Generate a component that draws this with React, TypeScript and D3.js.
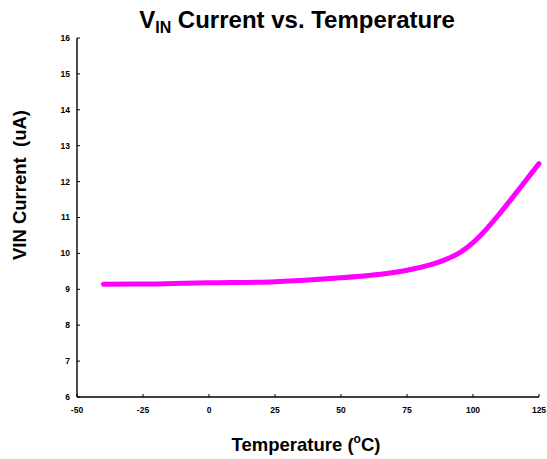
import React from "react";
import * as d3 from "d3";

// 온도(°C)와 VIN 전류(uA) 값
const temps = [-40, -20, 0, 25, 50, 65, 75, 85, 90, 95, 100, 105, 110, 115, 120, 125];
const currents = [9.14, 9.15, 9.18, 9.21, 9.32, 9.42, 9.53, 9.71, 9.84, 10.02, 10.3, 10.67, 11.1, 11.56, 12.03, 12.5];
const xTicks = [-50, -25, 0, 25, 50, 75, 100, 125];
const yTicks = [6, 7, 8, 9, 10, 11, 12, 13, 14, 15, 16];

const W = 547;
const H = 459;
const margin = { top: 38, right: 8, bottom: 62, left: 77 };
const font = "Arial, 'Liberation Sans', sans-serif";

const App: React.FC = () => {
  const x = d3.scaleLinear().domain([-50, 125]).range([margin.left, W - margin.right]);
  const y = d3.scaleLinear().domain([6, 16]).range([H - margin.bottom, margin.top]);

  const line = d3
    .line<number>()
    .x((_, i) => x(temps[i]))
    .y((d) => y(d))
    .curve(d3.curveCatmullRom.alpha(0.5));

  const x0 = x(-50);
  const y0 = y(6);

  return (
    <svg
      width={W}
      height={H}
      style={{ position: "absolute", left: 0, top: 0, background: "#fff" }}
      fontFamily={font}
    >
      {/* 제목 */}
      <text x={297} y={28} textAnchor="middle" fontSize={24} fontWeight="bold">
        V<tspan fontSize={16} dy={5}>IN</tspan>
        <tspan dy={-5}> Current vs. Temperature</tspan>
      </text>

      {/* y축 */}
      <line x1={x0} x2={x0} y1={y(16)} y2={y0} stroke="#000" strokeWidth={1.4} />
      {yTicks.map((t) => (
        <g key={t}>
          <line x1={x0} x2={x0 + 3} y1={y(t)} y2={y(t)} stroke="#000" strokeWidth={1} />
          <text x={x0 - 7} y={y(t)} dy="0.35em" textAnchor="end" fontSize={8.5} fontWeight="bold">
            {t}
          </text>
        </g>
      ))}

      {/* x축 */}
      <line x1={x0} x2={x(125)} y1={y0} y2={y0} stroke="#000" strokeWidth={1.4} />
      {xTicks.map((t) => (
        <g key={t}>
          <line x1={x(t)} x2={x(t)} y1={y0} y2={y0 - 3} stroke="#000" strokeWidth={1} />
          <text x={x(t)} y={413} textAnchor="middle" fontSize={8.5} fontWeight="bold">
            {t}
          </text>
        </g>
      ))}

      {/* 축 제목 */}
      <text x={306} y={451} textAnchor="middle" fontSize={18.5} fontWeight="bold">
        Temperature (<tspan fontSize={12} dy={-8}>o</tspan>
        <tspan dy={8}>C)</tspan>
      </text>
      <text
        transform="translate(26,185) rotate(-90)"
        textAnchor="middle"
        fontSize={18.5}
        fontWeight="bold"
        style={{ whiteSpace: "pre" }}
      >
        VIN Current  (uA)
      </text>

      {/* 데이터 선 */}
      <path
        d={line(currents) ?? ""}
        fill="none"
        stroke="#ff00ff"
        strokeWidth={5}
        strokeLinecap="round"
        strokeLinejoin="round"
      />
    </svg>
  );
};

export default App;
